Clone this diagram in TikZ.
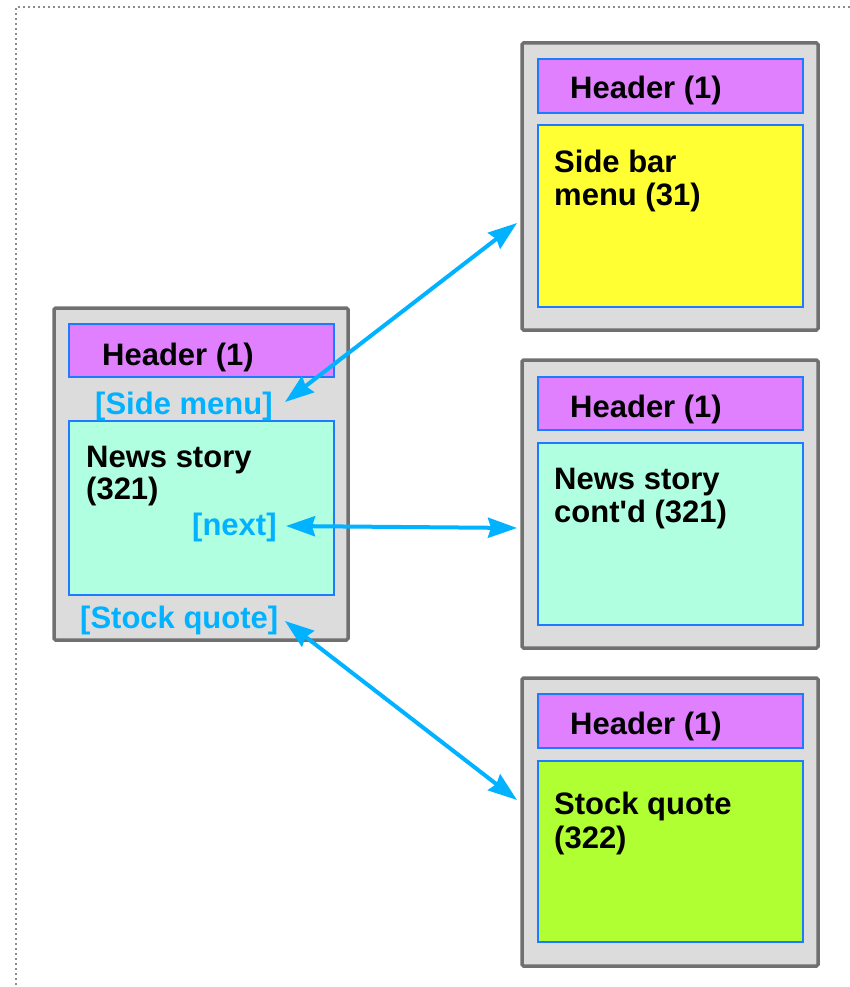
\documentclass[tikz,border=0pt]{standalone}
\usepackage{fontspec}
\setmainfont{Liberation Sans}[Ligatures=TeXOff]
\usetikzlibrary{arrows.meta}
\definecolor{pagegray}{HTML}{DCDCDC}
\definecolor{pageedge}{HTML}{707070}
\definecolor{boxedge}{HTML}{1E7BFF}
\definecolor{headfill}{HTML}{E080FF}
\definecolor{newsfill}{HTML}{B0FFE0}
\definecolor{menufill}{HTML}{FFFF33}
\definecolor{stockfill}{HTML}{B0FF33}
\definecolor{linkblue}{HTML}{00B2FF}
\definecolor{framegray}{HTML}{8C8C8C}
\begin{document}
\begin{tikzpicture}[x=1pt,y=-1pt,
  frame/.style={draw=framegray,line width=1.8pt,dash pattern=on 2pt off 3pt},
  page/.style={draw=pageedge,fill=pagegray,line width=3.5pt,rounded corners=1.5pt,
    anchor=north west,inner sep=0pt,outer sep=0pt},
  inbox/.style={draw=boxedge,line width=1.5pt,anchor=north west,inner sep=0pt,outer sep=0pt},
  lbl/.style={anchor=base west,inner sep=0pt,font=\fontsize{31}{33}\selectfont\bfseries},
  link/.style={lbl,text=linkblue},
  dbl/.style={draw=linkblue,line width=4pt,
    {Stealth[length=29pt,width=20pt,inset=3pt]}-{Stealth[length=29pt,width=20pt,inset=3pt]}}
]
\useasboundingbox (0,0) rectangle (850,987);
\draw[frame] (850,7) -- (16,7) -- (16,987);

% left page
\node[page,minimum width=294pt,minimum height=332pt] (lp) at (54,308) {};
\node[inbox,fill=headfill,minimum width=265pt,minimum height=53pt] (lph) at (69,324) {};
\node[inbox,fill=newsfill,minimum width=265pt,minimum height=174pt] (lpb) at (69,421) {};
\node[lbl] (lpht) at (102,365) {Header (1)};
\node[link] (sidemenu) at (95,414) {[Side menu]};
\node[lbl] (lpb1) at (86,467) {News story};
\node[lbl] (lpb2) at (86,499) {(321)};
\node[link] (next) at (192,535) {[next]};
\node[link] (stock) at (80,628) {[Stock quote]};

% right page 1
\node[page,minimum width=296pt,minimum height=287pt] (p1) at (522,43) {};
\node[inbox,fill=headfill,minimum width=265pt,minimum height=54pt] (p1h) at (538,59) {};
\node[inbox,fill=menufill,minimum width=265pt,minimum height=182pt] (p1b) at (538,125) {};
\node[lbl] (p1ht) at (570,99) {Header (1)};
\node[lbl] (p1b1) at (554,172) {Side bar};
\node[lbl] (p1b2) at (554,205) {menu (31)};

% right page 2
\node[page,minimum width=296pt,minimum height=288pt] (p2) at (522,360) {};
\node[inbox,fill=headfill,minimum width=265pt,minimum height=53pt] (p2h) at (538,377) {};
\node[inbox,fill=newsfill,minimum width=265pt,minimum height=182pt] (p2b) at (538,443) {};
\node[lbl] (p2ht) at (570,417) {Header (1)};
\node[lbl] (p2b1) at (554,489) {News story};
\node[lbl] (p2b2) at (554,522) {cont'd (321)};

% right page 3
\node[page,minimum width=296pt,minimum height=288pt] (p3) at (522,678) {};
\node[inbox,fill=headfill,minimum width=265pt,minimum height=54pt] (p3h) at (538,694) {};
\node[inbox,fill=stockfill,minimum width=265pt,minimum height=181pt] (p3b) at (538,761) {};
\node[lbl] (p3ht) at (570,734) {Header (1)};
\node[lbl] (p3b1) at (554,814) {Stock quote};
\node[lbl] (p3b2) at (554,848) {(322)};

% connector ends
\coordinate (a1l) at (285,402);
\coordinate (a1r) at (517,223);
\coordinate (a2l) at (286,526);
\coordinate (a2r) at (517,528);
\coordinate (a3l) at (285,621);
\coordinate (a3r) at (517,800);
\draw[dbl] (a1l) -- (a1r);
\draw[dbl] (a2l) -- (a2r);
\draw[dbl] (a3l) -- (a3r);
\end{tikzpicture}
\end{document}
